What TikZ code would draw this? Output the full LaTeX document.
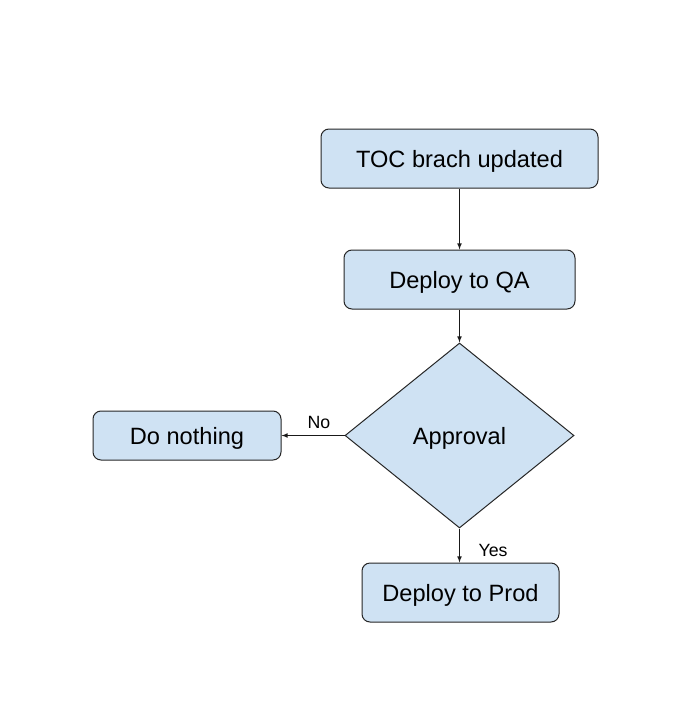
\documentclass[tikz,border=0pt]{standalone}
\usepackage{fontspec}
\setmainfont{Liberation Sans}
\usetikzlibrary{arrows,shapes.geometric}
\definecolor{boxblue}{HTML}{CFE2F3}

\begin{document}
\begin{tikzpicture}[>=latex,x=0.75pt,y=-0.75pt,
	box/.style={draw=black!85,fill=boxblue,line width=0.75pt,rounded corners=6pt,
		inner sep=0pt,text depth=0pt,font=\fontsize{17.7}{21}\selectfont},
	decision/.style={diamond,draw=black!85,fill=boxblue,line width=0.75pt,
		inner sep=0pt,text depth=0pt,font=\fontsize{17.7}{21}\selectfont},
	lbl/.style={font=\fontsize{13.3}{16}\selectfont},
	flow/.style={->,line width=0.6pt,black!90}]

\useasboundingbox (0,0) rectangle (687,721);

\node[box,minimum width=207.75pt,minimum height=44.25pt] (toc) at (459.5,158.5) {TOC brach updated};
\node[box,minimum width=173.25pt,minimum height=44.25pt] (qa) at (459.5,279.5) {Deploy to QA};
\node[decision,minimum width=171.75pt,minimum height=138.75pt] (appr) at (459.5,435.5) {Approval};
\node[box,minimum width=141pt,minimum height=36.75pt] (nothing) at (187,435.5) {Do nothing};
\node[box,minimum width=147.75pt,minimum height=44.25pt] (prod) at (460.5,592.5) {Deploy to Prod};

\draw[flow] (toc) -- (qa);
\draw[flow] (qa) -- (appr);
\draw[flow] (appr.west) -- (nothing.east);
\draw[flow] (appr.south) -- (appr.south |- prod.north);

\node[lbl] (no) at (319,422) {No};
\node[lbl] (yes) at (493,550) {Yes};

\end{tikzpicture}
\end{document}
